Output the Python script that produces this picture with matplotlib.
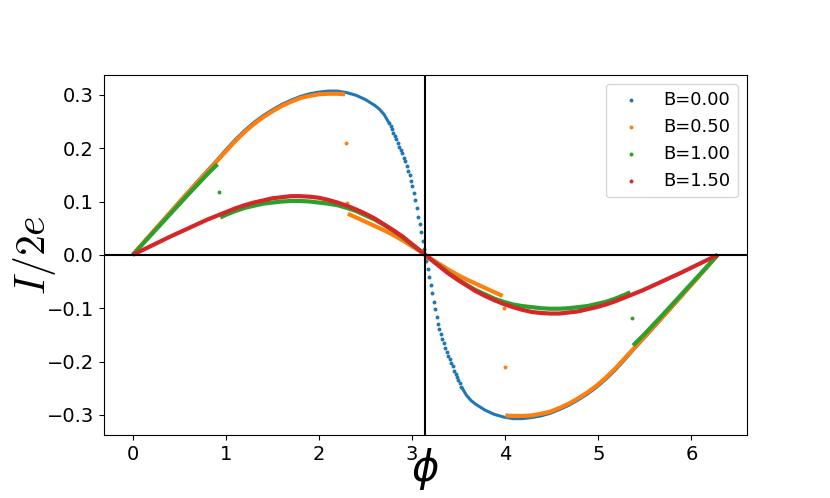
import numpy as np
import matplotlib
matplotlib.use("Agg")
import matplotlib.pyplot as plt

plt.rcParams["mathtext.fontset"] = "cm"

# B = 0.00 : smooth rising part, steep dotted part around pi, smooth falling part
blue_phi_a = [0.0, 0.1, 0.2, 0.3, 0.4, 0.5, 0.6, 0.7, 0.8, 0.9, 1.0, 1.1, 1.2, 1.3, 1.4,
              1.5, 1.6, 1.7, 1.8, 1.9, 2.0, 2.1, 2.2, 2.3, 2.4, 2.5, 2.6, 2.65, 2.7, 2.75]
blue_i_a = [0.000, 0.020, 0.040, 0.060, 0.080, 0.100, 0.119, 0.139, 0.158, 0.177, 0.197,
            0.216, 0.233, 0.248, 0.261, 0.272, 0.282, 0.290, 0.297, 0.302, 0.305, 0.307,
            0.307, 0.304, 0.299, 0.291, 0.280, 0.273, 0.263, 0.248]
blue_phi_dots = [2.753, 2.769, 2.784, 2.800, 2.816, 2.831, 2.847, 2.863, 2.879, 2.894,
                 2.910, 2.926, 2.941, 2.957, 2.973, 2.989, 3.004, 3.020, 3.036, 3.051,
                 3.067, 3.083, 3.098, 3.114, 3.130, 3.153, 3.169, 3.185, 3.200, 3.216,
                 3.232, 3.247, 3.263, 3.279, 3.294, 3.310, 3.326, 3.342, 3.357, 3.373,
                 3.389, 3.404, 3.420, 3.436, 3.451, 3.467, 3.483, 3.498, 3.514, 3.530]
blue_i_dots = [0.247, 0.241, 0.235, 0.229, 0.223, 0.217, 0.209, 0.202, 0.196, 0.190,
               0.182, 0.175, 0.166, 0.158, 0.149, 0.139, 0.130, 0.116, 0.102, 0.088,
               0.071, 0.057, 0.042, 0.026, 0.011, -0.011, -0.026, -0.042, -0.057, -0.071,
               -0.088, -0.102, -0.116, -0.130, -0.139, -0.149, -0.158, -0.166, -0.175, -0.182,
               -0.190, -0.196, -0.202, -0.209, -0.217, -0.223, -0.229, -0.235, -0.241, -0.247]
blue_phi_b = [3.533, 3.583, 3.633, 3.683, 3.783, 3.883, 3.983, 4.083, 4.183, 4.283, 4.383,
              4.483, 4.583, 4.683, 4.783, 4.883, 4.983, 5.083, 5.183, 5.283, 5.383, 5.483,
              5.583, 5.683, 5.783, 5.883, 5.983, 6.083, 6.183, 6.283]
blue_i_b = [-0.248, -0.263, -0.273, -0.280, -0.291, -0.299, -0.304, -0.307, -0.307, -0.305,
            -0.302, -0.297, -0.290, -0.282, -0.272, -0.261, -0.248, -0.233, -0.216, -0.197,
            -0.177, -0.158, -0.139, -0.119, -0.100, -0.080, -0.060, -0.040, -0.020, 0.000]

# B = 0.50
orange_phi_a = [0.0, 0.2, 0.4, 0.6, 0.8, 1.0, 1.1, 1.2, 1.3, 1.4, 1.5, 1.6, 1.7, 1.8, 1.9,
                2.0, 2.1, 2.2, 2.28]
orange_i_a = [0.000, 0.040, 0.079, 0.118, 0.156, 0.194, 0.213, 0.230, 0.245, 0.258, 0.269,
              0.279, 0.287, 0.294, 0.298, 0.301, 0.302, 0.302, 0.301]
orange_phi_b = [2.31, 2.4, 2.5, 2.6, 2.7, 2.8, 2.9, 3.0, 3.1, 3.183, 3.283, 3.383, 3.483,
                3.583, 3.683, 3.783, 3.883, 3.973]
orange_i_b = [0.077, 0.070, 0.062, 0.054, 0.046, 0.037, 0.027, 0.016, 0.005, -0.005, -0.016,
              -0.027, -0.037, -0.046, -0.054, -0.062, -0.070, -0.077]
orange_phi_c = [4.003, 4.083, 4.183, 4.283, 4.383, 4.483, 4.583, 4.683, 4.783, 4.883, 4.983,
                5.083, 5.183, 5.283, 5.483, 5.683, 5.883, 6.083, 6.283]
orange_i_c = [-0.301, -0.302, -0.302, -0.301, -0.298, -0.294, -0.287, -0.279, -0.269, -0.258,
              -0.245, -0.230, -0.213, -0.194, -0.156, -0.118, -0.079, -0.040, 0.000]
orange_phi_pts = [2.287, 2.300, 3.985, 3.998]
orange_i_pts = [0.209, 0.097, -0.099, -0.210]

# B = 1.00
green_phi_a = [0.0, 0.2, 0.4, 0.6, 0.8, 0.91]
green_i_a = [0.000, 0.038, 0.076, 0.114, 0.151, 0.170]
green_phi_b = [0.94, 1.0, 1.1, 1.2, 1.3, 1.4, 1.5, 1.6, 1.7, 1.8, 1.9, 2.0, 2.1, 2.2, 2.3,
               2.4, 2.5, 2.6, 2.7, 2.8, 2.9, 3.0, 3.1, 3.183, 3.283, 3.383, 3.483, 3.583,
               3.683, 3.783, 3.883, 3.983, 4.083, 4.183, 4.283, 4.383, 4.483, 4.583, 4.683,
               4.783, 4.883, 4.983, 5.083, 5.183, 5.283, 5.343]
green_i_b = [0.070, 0.075, 0.082, 0.088, 0.092, 0.096, 0.098, 0.100, 0.101, 0.101, 0.100,
             0.098, 0.096, 0.093, 0.088, 0.082, 0.074, 0.066, 0.056, 0.045, 0.033, 0.019,
             0.006, -0.006, -0.019, -0.033, -0.045, -0.056, -0.066, -0.074, -0.082, -0.088,
             -0.093, -0.096, -0.098, -0.100, -0.101, -0.101, -0.100, -0.098, -0.096, -0.092,
             -0.088, -0.082, -0.075, -0.070]
green_phi_c = [5.373, 5.483, 5.683, 5.883, 6.083, 6.283]
green_i_c = [-0.170, -0.151, -0.114, -0.076, -0.038, 0.000]
green_phi_pts = [0.925, 5.358]
green_i_pts = [0.118, -0.118]

# B = 1.50
red_phi = [0.0, 0.2, 0.4, 0.6, 0.8, 1.0, 1.1, 1.2, 1.3, 1.4, 1.5, 1.6, 1.7, 1.8, 1.9, 2.0,
           2.1, 2.2, 2.3, 2.4, 2.5, 2.6, 2.7, 2.8, 2.9, 3.0, 3.1, 3.183, 3.283, 3.383, 3.483,
           3.583, 3.683, 3.783, 3.883, 3.983, 4.083, 4.183, 4.283, 4.383, 4.483, 4.583,
           4.683, 4.783, 4.883, 4.983, 5.083, 5.183, 5.283, 5.483, 5.683, 5.883, 6.083, 6.283]
red_i = [0.000, 0.017, 0.034, 0.050, 0.066, 0.080, 0.087, 0.093, 0.098, 0.102, 0.106, 0.108,
         0.110, 0.110, 0.109, 0.107, 0.103, 0.098, 0.092, 0.085, 0.077, 0.068, 0.057, 0.046,
         0.034, 0.020, 0.006, -0.006, -0.020, -0.034, -0.046, -0.057, -0.068, -0.077, -0.085,
         -0.092, -0.098, -0.103, -0.107, -0.109, -0.110, -0.110, -0.108, -0.106, -0.102,
         -0.098, -0.093, -0.087, -0.080, -0.066, -0.050, -0.034, -0.017, 0.000]

series = [
    ("B=0.00", "tab:blue", 2.2,
     [(blue_phi_a, blue_i_a), (blue_phi_b, blue_i_b)], (blue_phi_dots, blue_i_dots)),
    ("B=0.50", "tab:orange", 3.0,
     [(orange_phi_a, orange_i_a), (orange_phi_b, orange_i_b), (orange_phi_c, orange_i_c)],
     (orange_phi_pts, orange_i_pts)),
    ("B=1.00", "tab:green", 3.0,
     [(green_phi_a, green_i_a), (green_phi_b, green_i_b), (green_phi_c, green_i_c)],
     (green_phi_pts, green_i_pts)),
    ("B=1.50", "tab:red", 3.0, [(red_phi, red_i)], ([], [])),
]

fig = plt.figure(figsize=(8.3, 4.98), dpi=100)
ax = fig.add_axes([0.1247, 0.1265, 0.7753, 0.7235])

for label, color, lw, segments, dots in series:
    # dense branches look like solid lines, isolated / sparse points as dots
    for phi, cur in segments:
        ax.plot(phi, cur, color=color, lw=lw, solid_capstyle="butt")
    ax.scatter(dots[0], dots[1], s=8, color=color, linewidths=0)
    ax.scatter([], [], s=8, color=color, linewidths=0, label=label)

ax.axhline(0, color="k", lw=1.5)
ax.axvline(np.pi, color="k", lw=1.5)

ax.set_xlabel(r"$\phi$", fontsize=30, labelpad=-13, math_fontfamily="dejavusans")
ax.set_ylabel(r"$I/2e$", fontsize=30, labelpad=-8)
ax.tick_params(labelsize=14)
ax.legend(fontsize=13, loc="upper right")

plt.savefig("out.png", dpi=100)
plt.close()
